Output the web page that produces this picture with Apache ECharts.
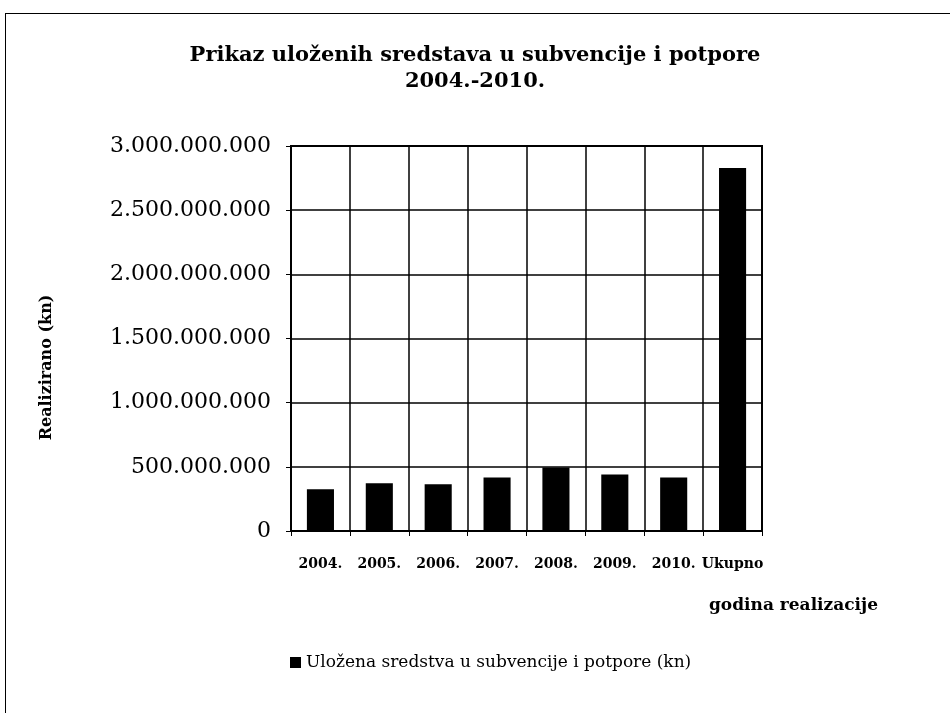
<!DOCTYPE html>
<html>
<head>
<meta charset="utf-8">
<script src="https://cdn.jsdelivr.net/npm/echarts@6/dist/echarts.min.js"></script>
<style>
  html, body { margin: 0; padding: 0; background: #fff; }
  #frame {
    position: absolute; left: 5px; top: 13px; width: 945px; height: 700px;
    border-top: 1.5px solid #000; border-left: 1.5px solid #000;
  }
  #chart { position: absolute; left: 0; top: 0; width: 950px; height: 713px; }
</style>
</head>
<body>
<div id="frame"></div>
<div id="chart"></div>
<script>
// kategorije i vrijednosti (kn)
const categories = ['2004.', '2005.', '2006.', '2007.', '2008.', '2009.', '2010.', 'Ukupno']
const values = [325000000, 372000000, 364000000, 416000000, 494000000, 441000000, 416000000, 2828000000]
const seriesName = 'Uložena sredstva u subvencije i potpore (kn)'

const serif = 'DejaVu Serif'

function fmt(v) {
  return String(v).replace(/\B(?=(\d{3})+(?!\d))/g, '.')
}

const chart = echarts.init(document.getElementById('chart'))
chart.setOption({
  animation: false,
  title: {
    text: 'Prikaz uloženih sredstava u subvencije i potpore\n2004.-2010.',
    left: 'center',
    top: 38,
    textStyle: { fontFamily: serif, fontWeight: 'bold', fontSize: 21, color: '#000', lineHeight: 26 }
  },
  legend: {
    data: [seriesName],
    left: 285,
    top: 649,
    icon: 'rect',
    itemWidth: 11,
    itemHeight: 11,
    itemGap: 4,
    textStyle: { fontFamily: serif, fontSize: 17, color: '#000' }
  },
  grid: {
    left: 291, right: 188, top: 146, bottom: 182,
    show: true, borderColor: '#000', borderWidth: 2
  },
  xAxis: {
    type: 'category',
    data: categories,
    name: 'godina realizacije',
    nameLocation: 'end',
    nameGap: 116,
    nameTextStyle: {
      fontFamily: serif, fontWeight: 'bold', fontSize: 17, color: '#000',
      align: 'right', verticalAlign: 'top', padding: [66, 0, 0, 0]
    },
    axisLine: { lineStyle: { color: '#000', width: 2 } },
    axisTick: { show: true, length: 5, lineStyle: { color: '#000' } },
    axisLabel: { fontFamily: serif, fontWeight: 'bold', fontSize: 14, color: '#000', margin: 26, interval: 0 },
    splitLine: { show: true, lineStyle: { color: '#000', width: 1.5 } }
  },
  yAxis: {
    type: 'value',
    min: 0,
    max: 3000000000,
    interval: 500000000,
    name: 'Realizirano (kn)',
    nameLocation: 'middle',
    nameRotate: 90,
    nameGap: 236,
    nameTextStyle: { fontFamily: serif, fontWeight: 'bold', fontSize: 16, color: '#000', padding: [0, 58, 0, 0] },
    axisLine: { show: true, lineStyle: { color: '#000', width: 2 } },
    axisTick: { show: true, length: 5, lineStyle: { color: '#000' } },
    axisLabel: { fontFamily: serif, fontSize: 22, color: '#000', margin: 20, formatter: fmt },
    splitLine: { show: true, lineStyle: { color: '#000', width: 1.5 } }
  },
  series: [{
    name: seriesName,
    type: 'bar',
    data: values,
    barWidth: '46%',
    itemStyle: { color: '#000' }
  }]
})
</script>
</body>
</html>
